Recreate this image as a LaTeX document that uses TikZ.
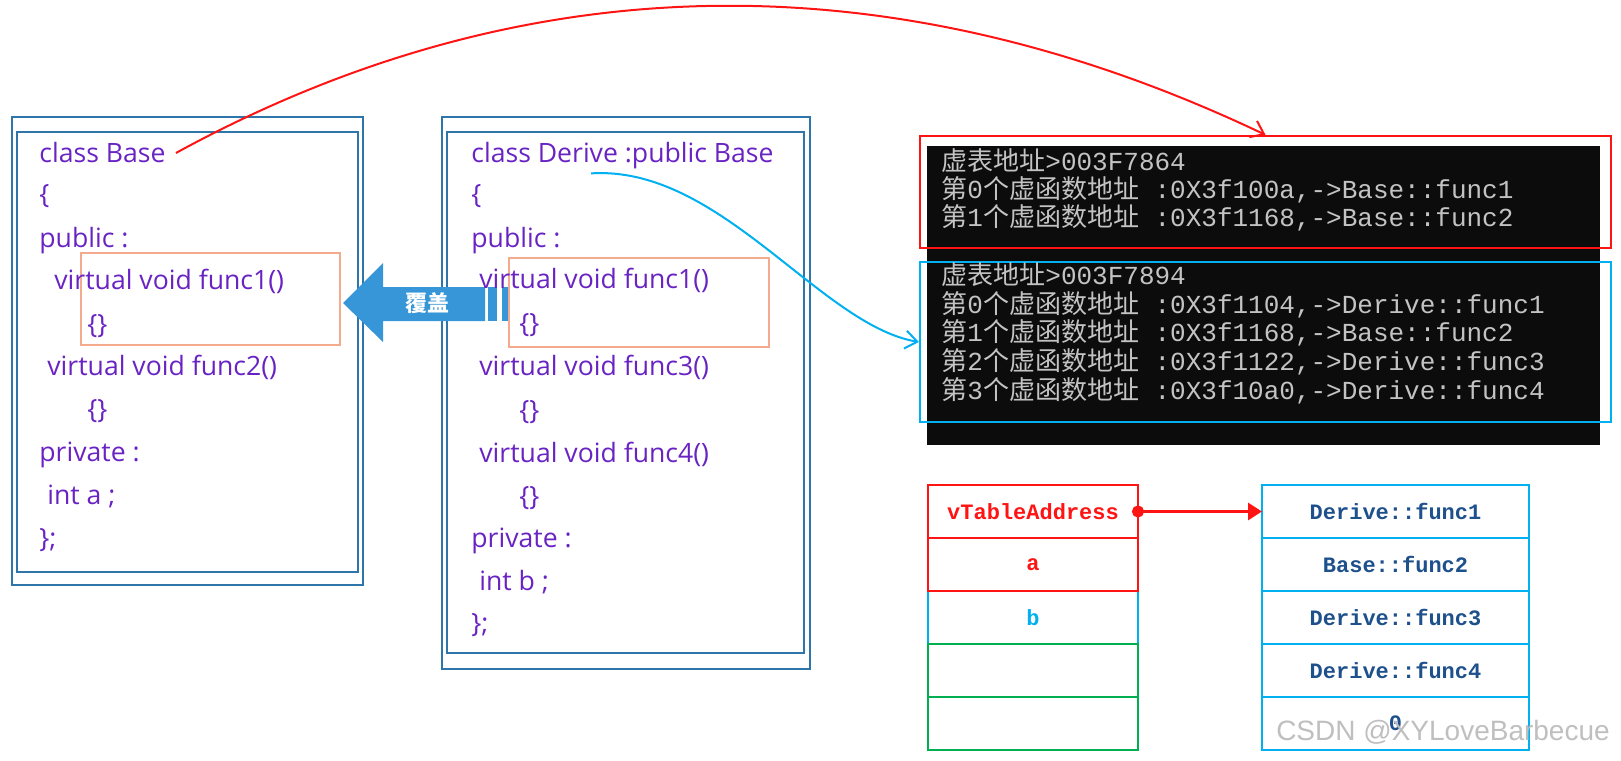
\documentclass[tikz,border=0pt]{standalone}
\usepackage{fontspec}
\setmainfont{Open Sans}
\newfontfamily\cjk{Noto Sans CJK SC}
\newfontfamily\conmono{Liberation Mono}
\newfontfamily\wmfont{Liberation Sans}
\usepackage{xcolor}
\usepackage{tikz}
\usetikzlibrary{arrows.meta, positioning, fit}

\definecolor{codepurple}{RGB}{105,35,195}
\definecolor{frameblue}{RGB}{46,117,170}
\definecolor{overorange}{RGB}{244,170,140}
\definecolor{coverblue}{RGB}{55,150,215}
\definecolor{vcyan}{RGB}{0,176,240}
\definecolor{vgreen}{RGB}{0,176,80}
\definecolor{vred}{RGB}{255,20,20}
\definecolor{fnblue}{RGB}{30,80,140}
\definecolor{congray}{RGB}{195,195,195}
\definecolor{conblack}{RGB}{12,12,12}

\begin{document}
\begin{tikzpicture}[
    x=0.5pt, y=-0.5pt,
    codeline/.style={
      anchor=west, inner sep=0pt, text=codepurple,
      font=\fontsize{13.3}{16}\selectfont,
      text height=9.5pt, text depth=2.5pt
    },
    codeframe/.style={draw=frameblue, line width=1.1pt, inner sep=0pt},
    overbox/.style={draw=overorange, line width=1pt, inner sep=0pt},
    conline/.style={
      anchor=west, inner sep=0pt, text=congray,
      font=\conmono\fontsize{13}{15}\selectfont
    },
    conbox/.style={line width=1.1pt, inner sep=0pt},
    cell/.style={
      rectangle, line width=1.2pt, outer sep=0pt,
      minimum width=105pt, minimum height=26.5pt,
      font=\conmono\bfseries\fontsize{11}{13}\selectfont
    },
    fcell/.style={cell, draw=vcyan, text=fnblue, minimum width=133.5pt},
    redarr/.style={draw=vred, line width=1pt, -{Straight Barb[length=6pt,width=9pt]}},
    bluearr/.style={draw=vcyan, line width=1pt, -{Straight Barb[length=6pt,width=9pt]}},
    ptrarr/.style={draw=vred, line width=1.5pt,
      {Circle[length=6pt]}-{Triangle[length=7pt,width=8.5pt]}, shorten <=-3pt},
    node distance=0pt
  ]
  \useasboundingbox (0,0) rectangle (1621,760);

  % class frames
  \node[codeframe, fit={(12,117) (363,585)}] (baseout) {};
  \node[codeframe, fit={(17,132) (358,572)}] (basein) {};
  \node[codeframe, fit={(442,117) (810,669)}] (deriveout) {};
  \node[codeframe, fit={(447,132) (804,653)}] (derivein) {};
  \node[overbox, fit={(81,253) (340,345)}] (bover) {};
  \node[overbox, fit={(509,258) (769,347)}] (dover) {};

  % override arrow
  \fill[coverblue] (343,303) -- (383,263) -- (383,287) -- (485,287)
    -- (485,321) -- (383,321) -- (383,342) -- cycle;
  \fill[coverblue] (488,287) rectangle (497,321);
  \fill[coverblue] (502,287) rectangle (508,321);
  \node[text=white, font=\cjk\bfseries\fontsize{11}{13}\selectfont] (cover) at (427,303) {覆盖};

  % class Base
  \node[codeline] (bcls) at (39,155) {class Base};
  \node[codeline] (bl2)  at (39,196) {\{};
  \node[codeline] (bl3)  at (39,240) {public :};
  \node[codeline] (bl4)  at (54,282) {virtual void func1()};
  \node[codeline] (bl5)  at (87,326) {\{\}};
  \node[codeline] (bl6)  at (47,368) {virtual void func2()};
  \node[codeline] (bl7)  at (87,411) {\{\}};
  \node[codeline] (bl8)  at (39,454) {private :};
  \node[codeline] (bl9)  at (47,497) {int a ;};
  \node[codeline] (bl10) at (39,540) {\};};

  % class Derive
  \node[codeline] (dcls) at (471,155) {class Derive :public Base};
  \node[codeline] (dl2)  at (471,196) {\{};
  \node[codeline] (dl3)  at (471,240) {public :};
  \node[codeline] (dl4)  at (479,281) {virtual void func1()};
  \node[codeline] (dl5)  at (519,325) {\{\}};
  \node[codeline] (dl6)  at (479,368) {virtual void func3()};
  \node[codeline] (dl7)  at (519,412) {\{\}};
  \node[codeline] (dl8)  at (479,455) {virtual void func4()};
  \node[codeline] (dl9)  at (519,498) {\{\}};
  \node[codeline] (dl10) at (471,540) {private :};
  \node[codeline] (dl11) at (479,583) {int b ;};
  \node[codeline] (dl12) at (471,625) {\};};

  % console output
  \node[fill=conblack, inner sep=0pt, fit={(927,146) (1600,445)}] (console) {};
  \node[conbox, draw=vred, fit={(920,136) (1611,248)}] (vt1) {};
  \node[conbox, draw=vcyan, fit={(920,262) (1611,422)}] (vt2) {};
  \node[conline] (c1) at (941,161) {{\cjk 虚表地址}>003F7864};
  \node[conline] (c2) at (941,190) {{\cjk 第}0{\cjk 个虚函数地址} :0X3f100a,->Base::func1};
  \node[conline] (c3) at (941,218) {{\cjk 第}1{\cjk 个虚函数地址} :0X3f1168,->Base::func2};
  \node[conline] (c4) at (941,275) {{\cjk 虚表地址}>003F7894};
  \node[conline] (c5) at (941,305) {{\cjk 第}0{\cjk 个虚函数地址} :0X3f1104,->Derive::func1};
  \node[conline] (c6) at (941,333) {{\cjk 第}1{\cjk 个虚函数地址} :0X3f1168,->Base::func2};
  \node[conline] (c7) at (941,362) {{\cjk 第}2{\cjk 个虚函数地址} :0X3f1122,->Derive::func3};
  \node[conline] (c8) at (941,391) {{\cjk 第}3{\cjk 个虚函数地址} :0X3f10a0,->Derive::func4};

  % object layout
  \node[cell, draw=vcyan, text=vcyan] (memb) at (1033,617.5) {b};
  \node[cell, draw=vred, text=vred, above=of memb] (mema) {a};
  \node[cell, draw=vred, text=vred, above=of mema] (vtptr) {vTableAddress};
  \node[cell, draw=vgreen, below=of memb] (memc) {};
  \node[cell, draw=vgreen, below=of memc] (memd) {};

  % virtual table
  \node[fcell] (f1) at (1395.5,511.5) {Derive::func1};
  \node[fcell, below=of f1] (f2) {Base::func2};
  \node[fcell, below=of f2] (f3) {Derive::func3};
  \node[fcell, below=of f3] (f4) {Derive::func4};
  \node[fcell, below=of f4] (f5) {0};

  \draw[ptrarr] (vtptr.east) -- (f1.west);

  \draw[redarr] ([shift={(5pt,1pt)}]bcls.east) .. controls (529,-40) and (898,-40) .. (vt1.north);
  \draw[bluearr] ([shift={(60pt,-3pt)}]dcls.south west) .. controls (720,165) and (820,325) .. (vt2.west);

  \node[font=\wmfont\fontsize{14}{16}\selectfont, text=gray!50] (mark) at (1443,732) {CSDN @XYLoveBarbecue};
\end{tikzpicture}
\end{document}
